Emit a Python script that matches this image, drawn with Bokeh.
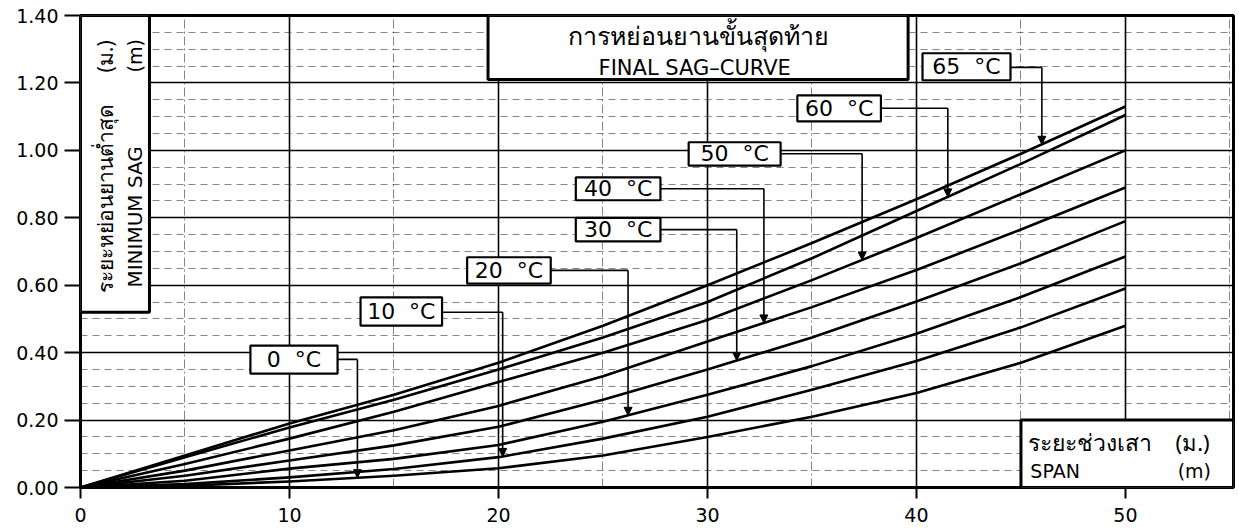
import numpy as np
from bokeh.plotting import figure
from bokeh.models import (Range1d, FixedTicker, NumeralTickFormatter, Label,
                          Arrow, NormalHead, BoxAnnotation, ColumnDataSource)
from bokeh.embed import file_html
from bokeh.resources import INLINE

# ---------------- data ----------------
span = [0, 5, 10, 15, 20, 25, 30, 35, 40, 45, 50]
sag_0c = [0, 0.005, 0.018, 0.035, 0.057, 0.095, 0.15, 0.21, 0.28, 0.37, 0.48]
sag_10c = [0, 0.010, 0.030, 0.055, 0.090, 0.145, 0.21, 0.29, 0.375, 0.475, 0.59]
sag_20c = [0, 0.020, 0.056, 0.085, 0.126, 0.195, 0.275, 0.36, 0.456, 0.565, 0.685]
sag_30c = [0, 0.035, 0.080, 0.125, 0.180, 0.260, 0.35, 0.445, 0.552, 0.665, 0.79]
sag_40c = [0, 0.050, 0.110, 0.170, 0.242, 0.330, 0.433, 0.535, 0.645, 0.765, 0.89]
sag_50c = [0, 0.070, 0.145, 0.225, 0.313, 0.400, 0.497, 0.615, 0.74, 0.87, 1.00]
sag_60c = [0, 0.090, 0.178, 0.260, 0.350, 0.445, 0.55, 0.68, 0.82, 0.96, 1.105]
sag_65c = [0, 0.095, 0.190, 0.275, 0.370, 0.480, 0.60, 0.725, 0.855, 0.99, 1.13]

series = [sag_0c, sag_10c, sag_20c, sag_30c, sag_40c, sag_50c, sag_60c, sag_65c]
temp_labels = ["0\u00a0 °C", "10\u00a0 °C", "20\u00a0 °C", "30\u00a0 °C",
               "40\u00a0 °C", "50\u00a0 °C", "60\u00a0 °C", "65\u00a0 °C"]

x_ticks = [0, 10, 20, 30, 40, 50]
x_minor = [5, 15, 25, 35, 45, 55]
y_ticks = [0.0, 0.2, 0.4, 0.6, 0.8, 1.0, 1.2, 1.4]
y_minor = [0.05, 0.1, 0.15, 0.25, 0.3, 0.35, 0.45, 0.5, 0.55, 0.65, 0.7, 0.75,
           0.85, 0.9, 0.95, 1.05, 1.1, 1.15, 1.25, 1.3, 1.35]

# ---------------- layout (positions of label boxes, in data units) ----------------
# each: (left, right, bottom, top, leader_y, leader_x)
label_boxes = [
    (8.13, 12.30, 0.338, 0.421, 0.380, 13.25),
    (13.40, 17.30, 0.480, 0.564, 0.520, 20.20),
    (18.50, 22.50, 0.605, 0.683, 0.644, 26.20),
    (23.70, 27.75, 0.730, 0.800, 0.765, 31.40),
    (23.70, 27.75, 0.852, 0.920, 0.886, 32.70),
    (29.10, 33.50, 0.955, 1.024, 0.990, 37.40),
    (34.30, 38.30, 1.086, 1.163, 1.125, 41.50),
    (40.29, 44.50, 1.208, 1.288, 1.246, 46.00),
]

XMAX = 55.17
YMAX = 1.4
FONT = "DejaVu Sans"
THAI = "Noto Sans"

p = figure(width=1236, height=529, output_backend="svg", toolbar_location=None,
           x_range=Range1d(0, XMAX), y_range=Range1d(0, YMAX),
           min_border_left=80, min_border_right=3, min_border_top=15, min_border_bottom=42,
           background_fill_color="white", border_fill_color="white")

p.outline_line_color = "black"
p.outline_line_width = 3
p.outline_line_alpha = 1

# axes
p.xaxis.ticker = FixedTicker(ticks=x_ticks, minor_ticks=x_minor)
p.yaxis.ticker = FixedTicker(ticks=y_ticks, minor_ticks=y_minor)
p.yaxis.formatter = NumeralTickFormatter(format="0.00")
p.xaxis.formatter = NumeralTickFormatter(format="0")
for ax in (p.xaxis, p.yaxis):
    ax.axis_line_width = 3
    ax.axis_line_color = "black"
    ax.major_tick_line_width = 2
    ax.major_tick_line_color = "black"
    ax.major_tick_in = 0
    ax.minor_tick_line_color = None
    ax.major_label_text_font = FONT
    ax.major_label_text_font_size = "19px"
    ax.major_label_text_color = "black"
p.yaxis.major_tick_out = 16
p.yaxis.major_label_standoff = 6
p.xaxis.major_tick_out = 11
p.xaxis.major_label_standoff = 9

# grids
for g in (p.xgrid, p.ygrid):
    g.grid_line_color = "black"
    g.grid_line_width = 1.6
    g.grid_line_alpha = 1
    g.minor_grid_line_color = "#333333"
    g.minor_grid_line_width = 1
    g.minor_grid_line_alpha = 0.6
p.ygrid.minor_grid_line_dash = "7 5"
p.xgrid.minor_grid_line_dash = "9 3 2 3"

# curves
for s in series:
    p.line(span, s, line_color="black", line_width=2.6, line_join="round")


def box(l, r, b, t, w):
    return BoxAnnotation(left=l, right=r, bottom=b, top=t, fill_color="white", fill_alpha=1,
                         line_color="black", line_alpha=1, line_width=w)


# frame boxes
p.add_layout(box(19.5, 39.6, 1.21, YMAX, 3))   # title
p.add_layout(box(0, 3.3, 0.52, YMAX, 3))       # y label
p.add_layout(box(45, XMAX, 0, 0.2, 3))         # x label

# title texts
p.add_layout(Label(x=29.55, y=1.341, text="การหย่อนยานขั้นสุดท้าย", text_align="center",
                   text_baseline="middle", text_font=THAI, text_font_size="25px", text_color="black"))
p.add_layout(Label(x=29.55, y=1.243, text="FINAL  SAG–CURVE", text_align="center",
                   text_baseline="middle", text_font=FONT, text_font_size="21px", text_color="black"))

# y label texts (rotated)
p.add_layout(Label(x=1.15, y=0.576, text="ระยะหย่อนยานต่ำสุด", angle=np.pi / 2, text_align="left",
                   text_baseline="middle", text_font=THAI, text_font_size="21px", text_color="black"))
p.add_layout(Label(x=1.15, y=1.231, text="(ม.)", angle=np.pi / 2, text_align="left",
                   text_baseline="middle", text_font=THAI, text_font_size="21px", text_color="black"))
p.add_layout(Label(x=2.63, y=0.593, text="MINIMUM  SAG", angle=np.pi / 2, text_align="left",
                   text_baseline="middle", text_font=FONT, text_font_size="20px", text_color="black"))
p.add_layout(Label(x=2.63, y=1.231, text="(m)", angle=np.pi / 2, text_align="left",
                   text_baseline="middle", text_font=FONT, text_font_size="19px", text_color="black"))

# x label texts
p.add_layout(Label(x=45.36, y=0.134, text="ระยะช่วงเสา", text_align="left", text_baseline="middle",
                   text_font=THAI, text_font_size="23px", text_color="black"))
p.add_layout(Label(x=52.4, y=0.134, text="(ม.)", text_align="left", text_baseline="middle",
                   text_font=THAI, text_font_size="22px", text_color="black"))
p.add_layout(Label(x=45.45, y=0.05, text="SPAN", text_align="left", text_baseline="middle",
                   text_font=FONT, text_font_size="19px", text_color="black"))
p.add_layout(Label(x=52.5, y=0.05, text="(m)", text_align="left", text_baseline="middle",
                   text_font=FONT, text_font_size="19px", text_color="black"))

# temperature label boxes with leaders
seg = dict(x0=[], y0=[], x1=[], y1=[])
for (l, r, b, t, ly, lx), s, txt in zip(label_boxes, series, temp_labels):
    target = float(np.interp(lx, span, s))
    seg["x0"] += [r]
    seg["y0"] += [ly]
    seg["x1"] += [lx]
    seg["y1"] += [ly]
    p.add_layout(Arrow(x_start=lx, y_start=ly, x_end=lx, y_end=target,
                       line_color="black", line_width=1.6,
                       end=NormalHead(size=8, fill_color="black", line_color="black")))
    p.add_layout(box(l, r, b, t, 2.2))
    p.add_layout(Label(x=(l + r) / 2, y=(b + t) / 2, text=txt, text_align="center",
                       text_baseline="middle", text_font=FONT, text_font_size="22px",
                       text_color="black"))
p.segment(x0="x0", y0="y0", x1="x1", y1="y1", source=ColumnDataSource(seg),
          line_color="black", line_width=1.6)

open("out.html", "w").write(file_html(p, INLINE))
